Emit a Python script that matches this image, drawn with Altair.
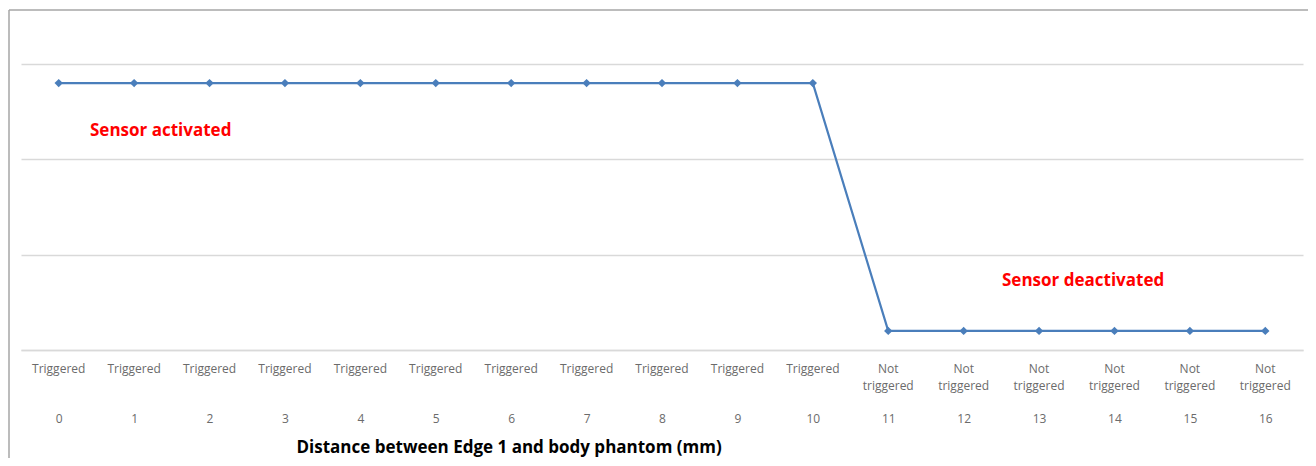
import altair as alt
import pandas as pd

distances = [str(i) for i in range(17)]
status = ["Triggered"] * 11 + ["Not\ntriggered"] * 6
values = [2.8] * 11 + [0.2] * 6

df = pd.DataFrame({"d": distances, "status": status, "v": values})
order = distances

W, H = 1282, 286
xs = alt.X("d:N", sort=order, scale=alt.Scale(paddingInner=0, paddingOuter=0),
           axis=alt.Axis(title="Distance between Edge 1  and body phantom (mm)",
                         labelAngle=0, ticks=False, domain=True, domainColor="#d9d9d9",
                         domainWidth=1.5, labelPadding=63, labelFontSize=12,
                         labelFont="Open Sans", labelColor="#6b6b6b",
                         titleFont="Open Sans", titleFontSize=17, titleFontWeight="bold",
                         titleColor="#000000", titleAlign="left", titleBaseline="middle",
                         titleX=275, titleY=97))
ys = alt.Y("v:Q", scale=alt.Scale(domain=[0, 3]),
           axis=alt.Axis(title=None, labels=False, ticks=False, domain=False,
                         values=[0, 1, 2, 3], gridColor="#d9d9d9", gridWidth=1.5))

base = alt.Chart(df)
line = base.mark_line(color="#4a7ebb", strokeWidth=2.2).encode(x=xs, y=ys)
pts = base.mark_point(shape="diamond", filled=True, size=70, color="#4a7ebb",
                      opacity=1).encode(x=alt.X("d:N", sort=order), y="v:Q")
cats = base.mark_text(lineBreak="\n", baseline="top", fontSize=12, font="Open Sans",
                      color="#6b6b6b", lineHeight=17).encode(
    x=alt.X("d:N", sort=order), y=alt.value(H + 14), text="status:N")

ann_df = pd.DataFrame({"t": ["Sensor activated", "Sensor deactivated"],
                       "px": [69, 981], "py": [67, 217]})
ann = alt.Chart(ann_df).mark_text(align="left", baseline="middle", fontSize=17,
                                  font="Open Sans", fontWeight="bold", color="#ff0000").encode(
    x=alt.X("px:Q", scale=None), y=alt.Y("py:Q", scale=None), text="t:N")

border_top = alt.Chart(pd.DataFrame({"a": [0]})).mark_rule(color="#a6a6a6", strokeWidth=1.5).encode(
    x=alt.value(-12), x2=alt.value(W + 10), y=alt.value(-54))
border_left = alt.Chart(pd.DataFrame({"a": [0]})).mark_rule(color="#a6a6a6", strokeWidth=1.5).encode(
    x=alt.value(-12), y=alt.value(-54), y2=alt.value(H + 130))

chart = alt.layer(line, pts, cats, ann, border_top, border_left).properties(
    width=W, height=H,
    autosize=alt.AutoSizeParams(type="none"),
    padding={"left": 13, "top": 56, "right": 5, "bottom": 108},
    background="white",
).configure_view(stroke=None)

chart.save("out.html", embed_options={"renderer": "svg", "actions": False})
